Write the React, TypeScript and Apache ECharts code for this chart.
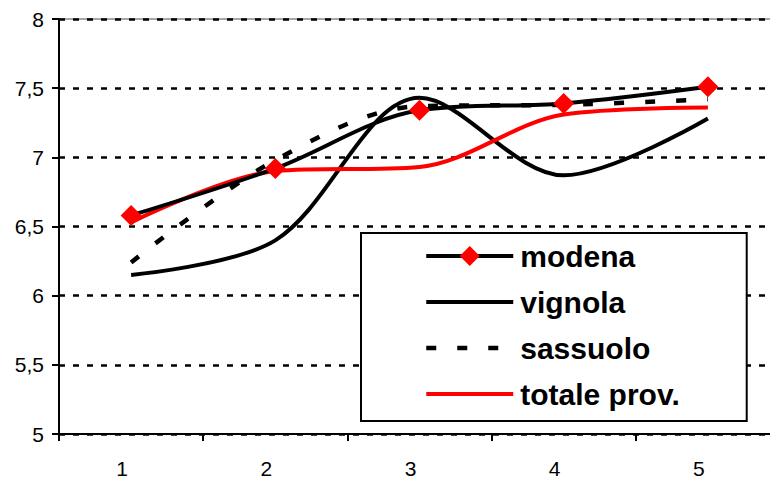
import React, { useEffect, useRef } from "react";
import * as echarts from "echarts";

const categories = ["1", "2", "3", "4", "5"];
const modena = [6.58, 6.92, 7.34, 7.39, 7.51];
const vignola = [6.15, 6.4, 7.43, 6.87, 7.28];
const sassuolo = [6.24, 6.98, 7.37, 7.38, 7.42];
const totaleProv = [6.53, 6.9, 6.93, 7.31, 7.36];
const yMin = 5;
const yMax = 8;
const yStep = 0.5;

export default function App() {
  const ref = useRef<HTMLDivElement>(null);
  useEffect(() => {
    if (!ref.current) return;
    const chart = echarts.init(ref.current, null, { renderer: "svg" });
    const font = "'Liberation Sans', Arial, sans-serif";
    const noSym = { color: "rgba(0,0,0,0)", opacity: 0, borderWidth: 0 };
    chart.setOption({
      animation: false,
      backgroundColor: "#ffffff",
      grid: {
        left: 59,
        right: -10,
        top: 19,
        bottom: 47,
        show: true,
        borderColor: "#8c8c8c",
        borderWidth: 1.5,
        outerBoundsMode: "none",
      },
      xAxis: {
        type: "category",
        data: categories,
        boundaryGap: true,
        axisLine: { lineStyle: { color: "#000", width: 2 } },
        axisTick: { show: true, length: 7, lineStyle: { color: "#000", width: 2 } },
        axisLabel: {
          color: "#000",
          fontSize: 21,
          fontFamily: font,
          margin: 24,
          padding: [0, 18, 0, 0],
        },
        splitLine: { show: false },
      },
      yAxis: {
        type: "value",
        min: yMin,
        max: yMax,
        interval: yStep,
        axisLine: { show: true, lineStyle: { color: "#000", width: 2 } },
        axisTick: { show: true, length: 7, lineStyle: { color: "#000", width: 2 } },
        axisLabel: {
          color: "#000",
          fontSize: 21,
          fontFamily: font,
          margin: 15,
          formatter: (v: number) => String(v).replace(".", ","),
        },
        splitLine: {
          show: true,
          lineStyle: { color: "#000", width: 2.5, type: [6, 8] },
        },
      },
      legend: {
        orient: "vertical",
        left: 361,
        top: 233,
        data: [
          { name: "modena", lineStyle: { width: 4, color: "#000" } },
          { name: "vignola", itemStyle: noSym, lineStyle: { width: 4, color: "#000" } },
          { name: "sassuolo", itemStyle: noSym, lineStyle: { width: 4.5, color: "#000", type: [10, 21] } },
          { name: "totale prov.", itemStyle: noSym, lineStyle: { width: 4, color: "#ff0000" } },
        ],
        itemWidth: 87,
        itemHeight: 25,
        itemGap: 16,
        padding: [8, 67, 12, 63],
        backgroundColor: "#fff",
        borderColor: "#000",
        borderWidth: 2,
        borderRadius: 0,
        textStyle: {
          color: "#000",
          fontSize: 30,
          lineHeight: 30,
          fontWeight: "bold",
          fontFamily: font,
          padding: [0, 0, 0, 2],
        },
      },
      series: [
        {
          name: "vignola",
          type: "line",
          data: vignola,
          smooth: 0.33,
          symbol: "none",
          lineStyle: { color: "#000", width: 4 },
          itemStyle: { color: "#000" },
          z: 2,
        },
        {
          name: "sassuolo",
          type: "line",
          data: sassuolo,
          smooth: 0.33,
          symbol: "none",
          lineStyle: { color: "#000", width: 4.5, type: [10, 21] },
          itemStyle: { color: "#000" },
          z: 3,
        },
        {
          name: "totale prov.",
          type: "line",
          data: totaleProv,
          smooth: 0.33,
          symbol: "none",
          lineStyle: { color: "#ff0000", width: 4 },
          itemStyle: { color: "#ff0000" },
          z: 4,
        },
        {
          name: "modena",
          type: "line",
          data: modena,
          smooth: 0.33,
          symbol: "diamond",
          symbolSize: 21,
          lineStyle: { color: "#000", width: 4 },
          itemStyle: { color: "#ff0000", borderWidth: 0 },
          z: 5,
        },
      ],
    });
    return () => chart.dispose();
  }, []);
  return <div ref={ref} style={{ width: 770, height: 481, position: "fixed", left: 0, top: 0 }} />;
}
